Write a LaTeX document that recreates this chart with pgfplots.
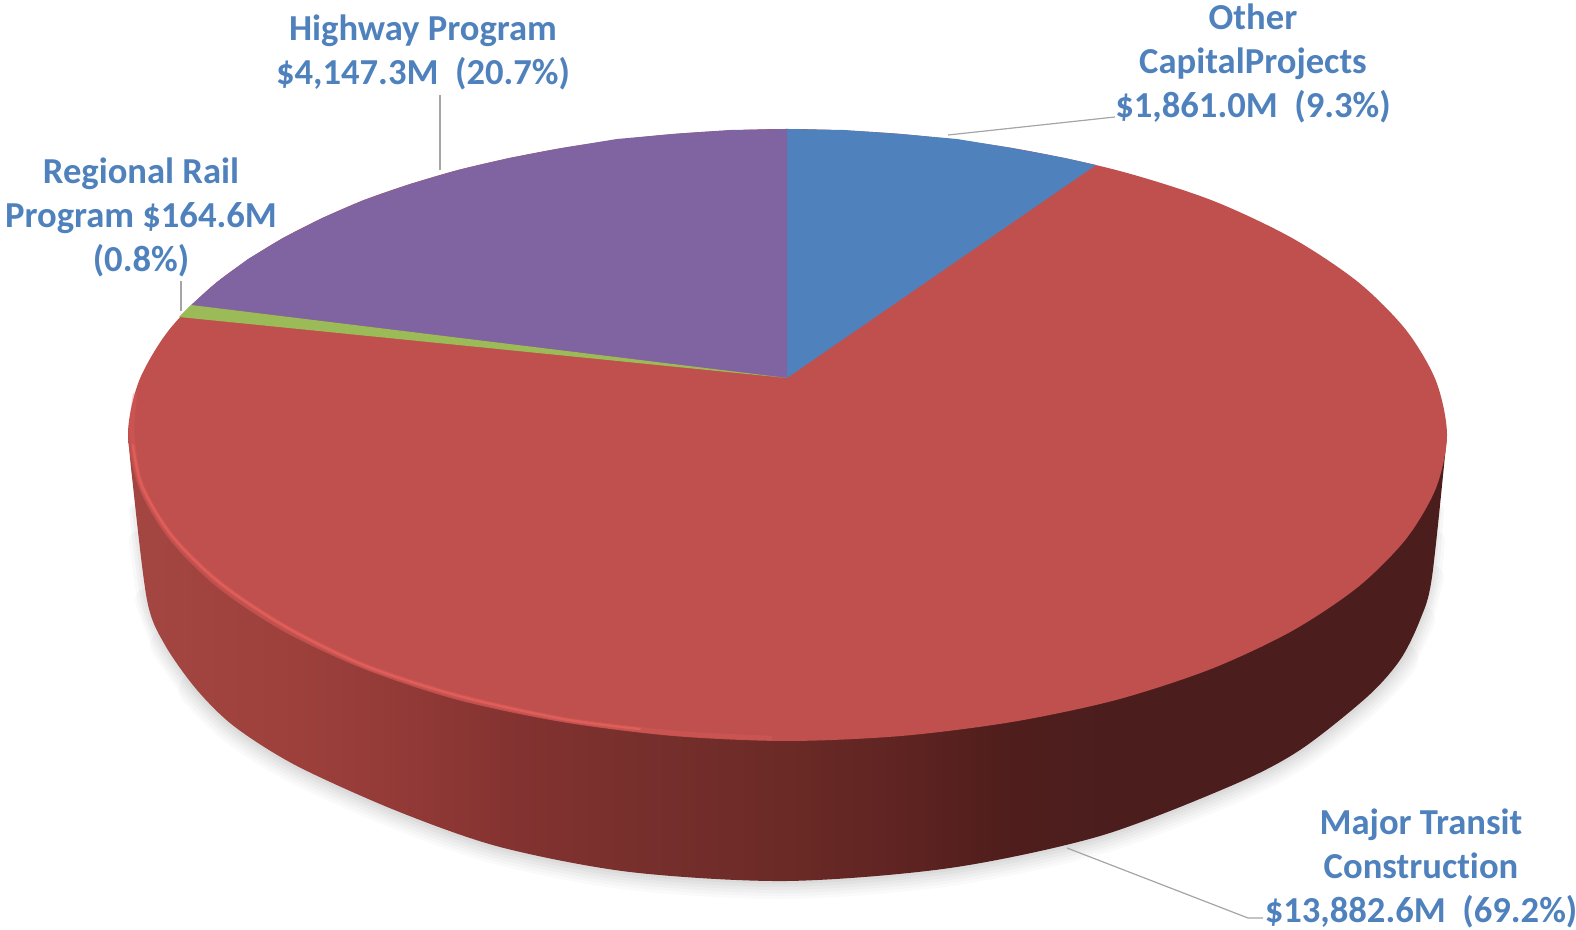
\documentclass[border=0pt]{standalone}
\usepackage{fontspec}
\setmainfont{Carlito}[Ligatures=NoCommon]
\usepackage{pgfplots}
\pgfplotsset{compat=1.18}
\definecolor{lbl}{RGB}{79,129,189}
\definecolor{sblue}{RGB}{79,129,189}
\definecolor{sred}{RGB}{192,80,77}
\definecolor{sgreen}{RGB}{155,187,89}
\definecolor{spurple}{RGB}{128,100,162}
\definecolor{rim}{RGB}{228,96,92}
\definecolor{leader}{RGB}{165,165,165}
\definecolor{wa}{RGB}{163,70,65}
\definecolor{wb}{RGB}{157,64,60}
\definecolor{wc}{RGB}{147,58,55}
\definecolor{wd}{RGB}{130,50,48}
\definecolor{we}{RGB}{118,47,44}
\definecolor{wf}{RGB}{107,42,38}
\definecolor{wg}{RGB}{95,36,34}
\definecolor{wh}{RGB}{80,30,28}
\definecolor{wi}{RGB}{75,30,29}
\pgfdeclarehorizontalshading{pieside}{100bp}{
  color(0bp)=(wa); color(26bp)=(wa); color(31.5bp)=(wb); color(35.3bp)=(wc);
  color(40bp)=(wd); color(44.8bp)=(we); color(50bp)=(wf); color(54.25bp)=(wg);
  color(58bp)=(wh); color(62bp)=(wi); color(100bp)=(wi)}
\tikzset{lab/.style={font=\fontsize{18.3pt}{22pt}\selectfont\bfseries, text=lbl, align=center, inner sep=0pt}}
\begin{document}
\begin{tikzpicture}
\useasboundingbox (0,0) rectangle (788pt,465pt);
\begin{axis}[
  at={(0,0)}, anchor=south west,
  hide axis, scale only axis, width=788pt, height=465pt,
  xmin=0, xmax=1576, ymin=0, ymax=930, y dir=reverse, clip=false]
% soft shadow
\addplot[smooth, no markers, black, line cap=round, line width=18pt, opacity=.02] coordinates {(1400,660)(1367,697)(1300,750)(1233,785)(1100,836)(950,868)(787,881)(630,872)(500,847)(397,811)(297,766)(235,727)(197,690)};
\addplot[smooth, no markers, black, line cap=round, line width=15pt, opacity=.02] coordinates {(1420,620)(1400,660)(1367,697)(1300,750)(1233,785)(1100,836)(950,868)(787,881)(630,872)(500,847)(397,811)(297,766)(235,727)(197,690)(165,645)};
\addplot[smooth, no markers, black, line cap=round, line width=12pt, opacity=.025] coordinates {(1432,577)(1420,620)(1400,660)(1367,697)(1300,750)(1233,785)(1100,836)(950,868)(787,881)(630,872)(500,847)(397,811)(297,766)(235,727)(197,690)(165,645)(147,600)};
\addplot[smooth, no markers, black, line cap=round, line width=9pt, opacity=.025] coordinates {(1436,540)(1432,577)(1420,620)(1400,660)(1367,697)(1300,750)(1233,785)(1100,836)(950,868)(787,881)(630,872)(500,847)(397,811)(297,766)(235,727)(197,690)(165,645)(147,600)(138,540)};
\addplot[smooth, no markers, black, line cap=round, line width=6pt, opacity=.03] coordinates {(1438,510)(1432,577)(1420,620)(1400,660)(1367,697)(1300,750)(1233,785)(1100,836)(950,868)(787,881)(630,872)(500,847)(397,811)(297,766)(235,727)(197,690)(165,645)(147,600)(135,510)};
\addplot[smooth, no markers, black, line cap=round, line width=3pt, opacity=.03] coordinates {(1438,510)(1432,577)(1420,620)(1400,660)(1367,697)(1300,750)(1233,785)(1100,836)(950,868)(787,881)(630,872)(500,847)(397,811)(297,766)(235,727)(197,690)(165,645)(147,600)(135,510)};
% side wall of the disc
\addplot[smooth, no markers, draw=none, shading=pieside] coordinates {(1447,435)(1432,577)(1420,620)(1400,660)(1367,697)(1300,750)(1233,785)(1100,836)(950,868)(787,881)(630,872)(500,847)(397,811)(297,766)(235,727)(197,690)(165,645)(147,600)(132,477)(128,434)};
% Major Transit Construction: whole top, the other slices lie on it
\addplot[smooth cycle, no markers, draw=none, fill=sred] coordinates {(1447,435)(1436,381)(1406,330)(1358,282)(1292,238)(1211,200)(1116,170)(1012,148)(901,134)(787,129)(673,134)(562,148)(458,170)(364,200)(283,238)(217,282)(169,330)(139,381)(128,434)(139,488)(169,539)(217,587)(283,631)(364,669)(458,700)(562,722)(673,736)(787,741)(901,736)(1012,722)(1116,700)(1211,669)(1292,631)(1358,587)(1406,539)(1436,488)};
% rim highlight
\addplot[smooth, no markers, rim, line cap=round, line width=2.4pt, opacity=.3] coordinates {(135,395)(132,434)(142,486)(172,536)(220,583)(286,627)(366,666)(459,696)(563,719)(673,733)(770,738)};
\addplot[smooth, no markers, rim, line cap=round, line width=1.2pt, opacity=.85] coordinates {(133,445)(142,486)(172,536)(220,583)(286,627)(366,666)(459,696)(563,719)(640,729)};
% Other Capital Projects
\addplot[no markers, draw=none, fill=sblue] coordinates {(787,378)(1096,165)(1065,158)(1012,148)(957,139)(901,134)(844,130)(787,129)} -- cycle;
% Highway Program
\addplot[no markers, draw=none, fill=spurple] coordinates {(787,378)(787,129)(730,130)(673,134)(617,139)(562,148)(509,158)(458,170)(410,184)(364,200)(322,218)(283,238)(248,259)(217,282)(191,305)} -- cycle;
% Regional Rail Program
\addplot[no markers, draw=none, fill=sgreen] coordinates {(787,378)(191,305)(179,317)} -- cycle;
% leader lines
\addplot[no markers, leader, line width=.6pt] coordinates {(440,95)(440,170)};
\addplot[no markers, leader, line width=.6pt] coordinates {(181,281)(181,311)};
\addplot[no markers, leader, line width=.6pt] coordinates {(948,135)(1115,117)};
\addplot[no markers, leader, line width=.6pt] coordinates {(1067,848)(1248,918)(1263,918)};
% labels
\node[lab] at (axis cs:423,52) {Highway Program\\\$4,147.3M\ \ (20.7\%)};
\node[lab] at (axis cs:141,217) {Regional Rail\\Program \$164.6M\\(0.8\%)};
\node[lab] at (axis cs:1253,63) {Other\\CapitalProjects\\\$1,861.0M\ \ (9.3\%)};
\node[lab] at (axis cs:1421,868) {Major Transit\\Construction\\\$13,882.6M\ \ (69.2\%)};
\end{axis}
\end{tikzpicture}
\end{document}
